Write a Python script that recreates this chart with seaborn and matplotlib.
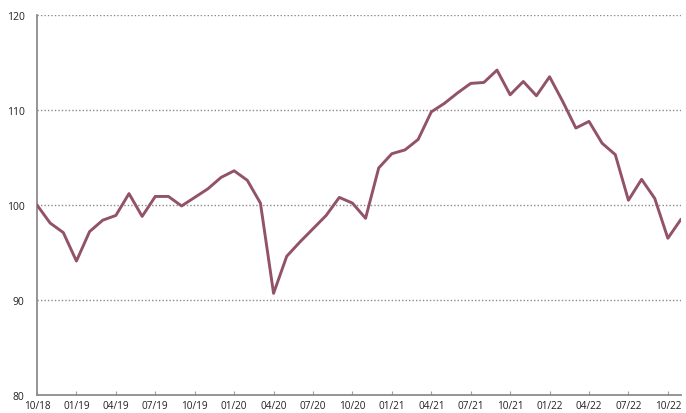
import matplotlib
matplotlib.use("Agg")
import matplotlib.pyplot as plt
import seaborn as sns
import pandas as pd

values = [100.0, 98.1, 97.1, 94.1, 97.2, 98.4, 98.9, 101.2, 98.8, 100.9,
          100.9, 99.9, 100.8, 101.7, 102.9, 103.6, 102.6, 100.2, 90.7, 94.6,
          96.1, 97.5, 98.9, 100.8, 100.2, 98.6, 103.9, 105.4, 105.8, 106.9,
          109.8, 110.7, 111.8, 112.8, 112.9, 114.2, 111.6, 113.0, 111.5, 113.5,
          110.9, 108.1, 108.8, 106.5, 105.3, 100.5, 102.7, 100.7, 96.5, 98.5]
tick_labels = ["10/18", "01/19", "04/19", "07/19", "10/19", "01/20", "04/20",
               "07/20", "10/20", "01/21", "04/21", "07/21", "10/21", "01/22",
               "04/22", "07/22", "10/22"]
y_ticks = [80, 90, 100, 110, 120]

sns.set_theme(style="white")
plt.rcParams['font.family'] = ['Open Sans', 'DejaVu Sans']

df = pd.DataFrame({"month": list(range(len(values))), "value": values})

fig = plt.figure(figsize=(6.86, 4.14), dpi=100)
ax = fig.add_axes([37/686, 1-396/414, (681-37)/686, (396-16)/414])

for v in y_ticks[1:]:
    ax.axhline(v, color="#8a8a8a", linestyle=(0, (1, 1.5)), linewidth=1.0, zorder=1)

sns.lineplot(data=df, x="month", y="value", ax=ax, color="#91526a", linewidth=2.1, zorder=3)

ax.set_xlim(0, len(values) - 1)
ax.set_ylim(80, 120)
ax.set_yticks(y_ticks)
ax.set_yticklabels([str(v) for v in y_ticks], fontsize=7.5, color="#222222")
ax.set_xticks(list(range(0, 3 * len(tick_labels), 3)))
ax.set_xticklabels(tick_labels, fontsize=7.2, color="#222222")
ax.set_xlabel("")
ax.set_ylabel("")

for s in ["top", "right"]:
    ax.spines[s].set_visible(False)
for s in ["left", "bottom"]:
    ax.spines[s].set_color("#8c8c8c")
    ax.spines[s].set_linewidth(1.3)

ax.tick_params(axis="x", direction="in", length=3, width=0.8, color="#a0a0a0", pad=3.5, bottom=True)
ax.tick_params(axis="y", length=0, pad=9)

fig.savefig("out.png", dpi=100)
